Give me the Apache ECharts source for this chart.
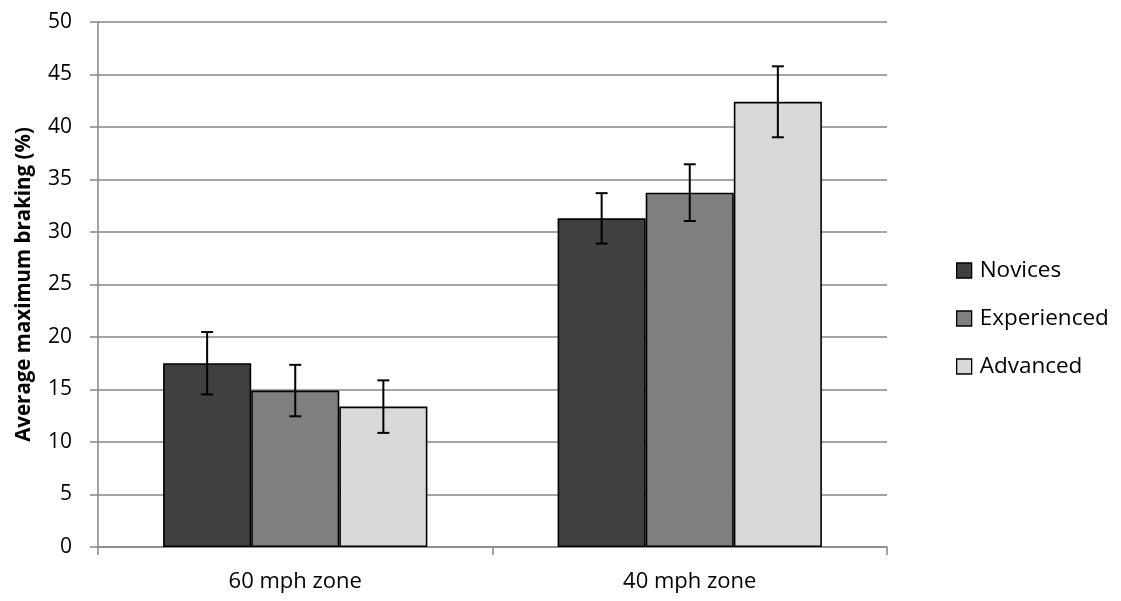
<!DOCTYPE html>
<html>
<head>
<meta charset="utf-8">
<script src="https://cdn.jsdelivr.net/npm/echarts@6/dist/echarts.min.js"></script>
<style>html,body{margin:0;padding:0;background:#fff;}#c{width:1121px;height:601px;}</style>
</head>
<body>
<div id="c"></div>
<script>
var categories = ['60 mph zone', '40 mph zone'];
var seriesNames = ['Novices', 'Experienced', 'Advanced'];
var novices = [17.5, 31.3];
var experienced = [14.9, 33.75];
var advanced = [13.37, 42.4];
var noviceErr = [2.97, 2.4];
var experiencedErr = [2.45, 2.7];
var advancedErr = [2.5, 3.38];
var yTicks = [0, 5, 10, 15, 20, 25, 30, 35, 40, 45, 50];

var values = [novices, experienced, advanced];
var errs = [noviceErr, experiencedErr, advancedErr];
var colors = ['#404040', '#7f7f7f', '#d9d9d9'];
var catGap = 0.33;
var font = 'Open Sans';

var chart = echarts.init(document.getElementById('c'));
var series = [];
values.forEach(function (vals, i) {
  series.push({
    name: seriesNames[i], type: 'bar', data: vals,
    barGap: '0%', barCategoryGap: '33%',
    itemStyle: { color: colors[i], borderColor: '#000', borderWidth: 1.6 },
    emphasis: { disabled: true }
  });
});
errs.forEach(function (e, i) {
  var data = e.map(function (v, k) { return [k, values[i][k] - v, values[i][k] + v]; });
  series.push({
    type: 'custom', silent: true, z: 10,
    data: data,
    renderItem: function (params, api) {
      var k = api.value(0);
      var lo = api.coord([k, api.value(1)]);
      var hi = api.coord([k, api.value(2)]);
      var band = api.size([1, 0])[0];
      var bw = band * (1 - catGap) / 3;
      var x = lo[0] + (i - 1) * bw;
      var cap = 6;
      var st = { stroke: '#000', lineWidth: 2 };
      return { type: 'group', children: [
        { type: 'line', shape: { x1: x, y1: lo[1], x2: x, y2: hi[1] }, style: st },
        { type: 'line', shape: { x1: x - cap, y1: lo[1], x2: x + cap, y2: lo[1] }, style: st },
        { type: 'line', shape: { x1: x - cap, y1: hi[1], x2: x + cap, y2: hi[1] }, style: st }
      ]};
    }
  });
});

chart.setOption({
  animation: false,
  grid: { left: 98, right: 234, top: 22, bottom: 54 },
  legend: {
    orient: 'vertical', left: 951, top: 254, itemGap: 25,
    itemWidth: 15, itemHeight: 15, icon: 'rect',
    data: seriesNames.map(function (n, i) {
      return { name: n, itemStyle: { color: colors[i], borderColor: '#000', borderWidth: 1.3 } };
    }),
    textStyle: { fontFamily: font, fontSize: 22.5, color: '#000', padding: [0, 0, 0, 3] }
  },
  xAxis: {
    type: 'category', data: categories,
    axisLine: { lineStyle: { color: '#868686', width: 1.5 } },
    axisTick: { show: true, length: 8, lineStyle: { color: '#868686', width: 1.5 } },
    axisLabel: { fontFamily: font, fontSize: 22, color: '#000', margin: 24 }
  },
  yAxis: {
    type: 'value', min: 0, max: 50, interval: 5,
    name: 'Average maximum braking (%)', nameLocation: 'middle', nameGap: 63,
    nameTextStyle: { fontFamily: font, fontSize: 20.5, fontWeight: 'bold', color: '#000', padding: [0, 0, 0, 0] },
    axisLine: { show: true, lineStyle: { color: '#868686', width: 1.5 } },
    axisTick: { show: true, length: 8, lineStyle: { color: '#868686', width: 1.5 } },
    splitLine: { lineStyle: { color: '#868686', width: 1.5 } },
    axisLabel: { fontFamily: font, fontSize: 21, color: '#000', margin: 26,
      formatter: function (v) { return yTicks.indexOf(v) >= 0 ? String(v) : ''; } }
  },
  series: series
});
</script>
</body>
</html>
